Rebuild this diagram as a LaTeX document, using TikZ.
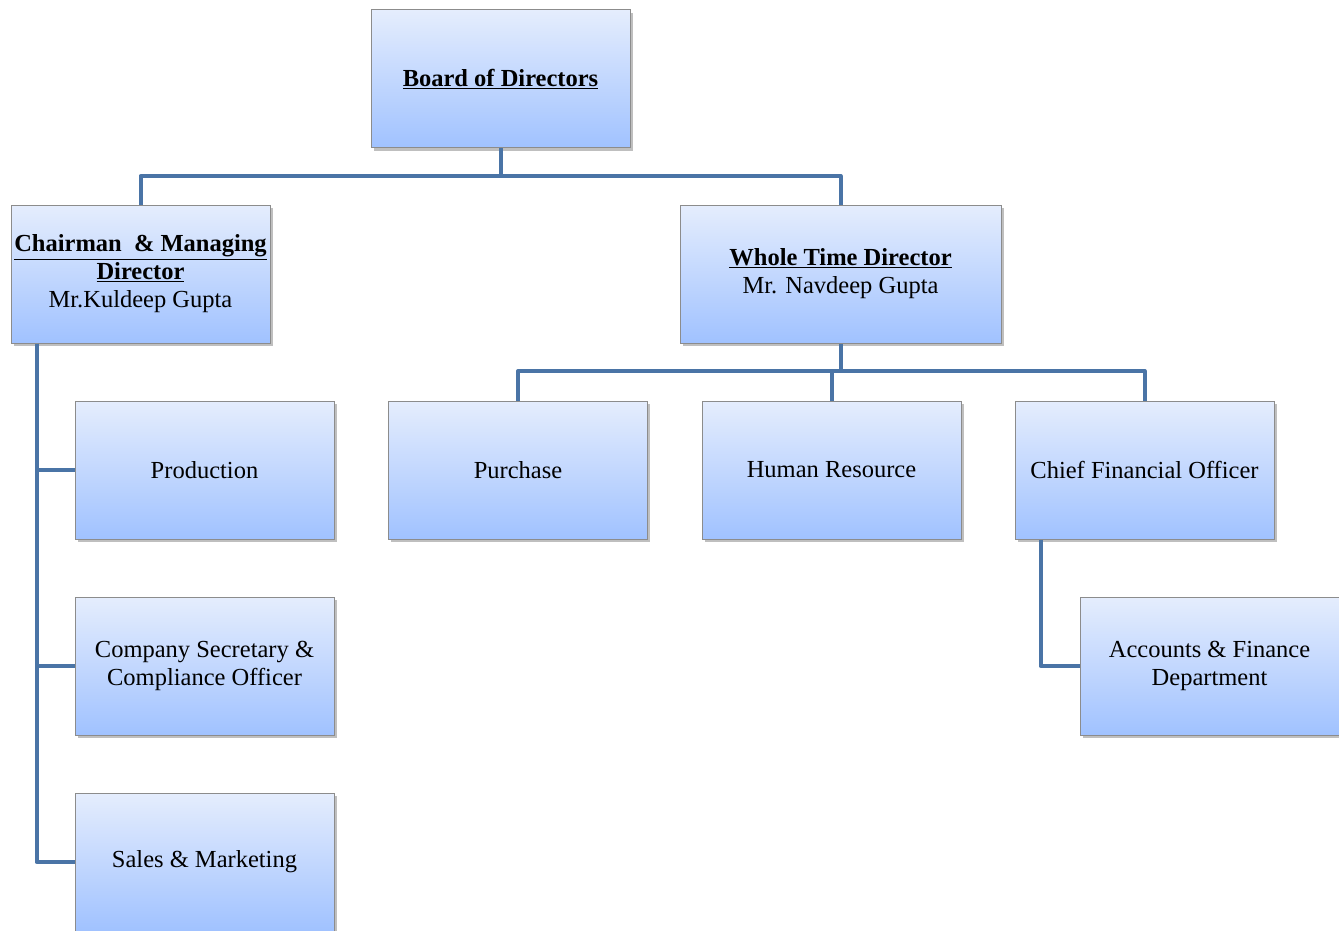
\documentclass[tikz,border=0pt]{standalone}
\usepackage{fontspec}
\setmainfont{Liberation Serif}
\usetikzlibrary{shadows}
\definecolor{boxtop}{RGB}{229,237,253}
\definecolor{boxbot}{RGB}{160,194,255}
\definecolor{boxline}{RGB}{140,140,140}
\definecolor{conn}{RGB}{74,116,166}
\tikzset{
  orgbox/.style={rectangle, draw=boxline, line width=1pt, top color=boxtop, bottom color=boxbot,
    minimum width=259pt, minimum height=138pt, inner sep=0pt, align=center,
    font=\fontsize{24.5}{28}\selectfont,
    drop shadow={shadow xshift=2.5pt, shadow yshift=-3pt, fill=black, opacity=0.25}},
  link/.style={draw=conn, line width=4pt, line join=round}
}
\begin{document}
\begin{tikzpicture}[x=1pt,y=-1pt]
\useasboundingbox (0,0) rectangle (1339,931);
\node[orgbox] (board) at (500.5,79) {\textbf{\underline{Board of Directors}}};
\node[orgbox] (chair) at (140.5,274) {\textbf{\underline{Chairman\ \ \& Managing}}\\\textbf{\underline{Director}}\\Mr.Kuldeep Gupta};
\node[orgbox, minimum width=321pt] (wtd) at (840.5,274) {\textbf{\underline{Whole Time Director}}\\Mr. Navdeep Gupta};
\node[orgbox] (prod) at (204.5,470) {Production};
\node[orgbox] (purch) at (518,470) {Purchase};
\node[orgbox] (hr) at (831.5,470) {Human Resource};
\node[orgbox] (cfo) at (1144.5,470) {Chief Financial Officer};
\node[orgbox] (cs) at (204.5,666) {Company Secretary \&\\Compliance Officer};
\node[orgbox] (acc) at (1209.5,666) {Accounts \& Finance\\Department};
\node[orgbox] (sales) at (204.5,862) {Sales \& Marketing};
\coordinate (j1) at (board.south |- 0,176);
\coordinate (j2) at (wtd.south |- 0,371);
\draw[link] (board.south) -- (j1);
\draw[link] (chair.north) |- (j1) -| (wtd.north);
\draw[link] (wtd.south) -- (j2);
\draw[link] (purch.north) |- (j2) -| (cfo.north);
\draw[link] (hr.north) -- (hr.north |- j2);
\draw[link] ([xshift=26pt]chair.south west) |- (sales.west);
\draw[link] ([xshift=26pt]chair.south west) |- (prod.west);
\draw[link] ([xshift=26pt]chair.south west) |- (cs.west);
\draw[link] ([xshift=26pt]cfo.south west) |- (acc.west);
\end{tikzpicture}
\end{document}
